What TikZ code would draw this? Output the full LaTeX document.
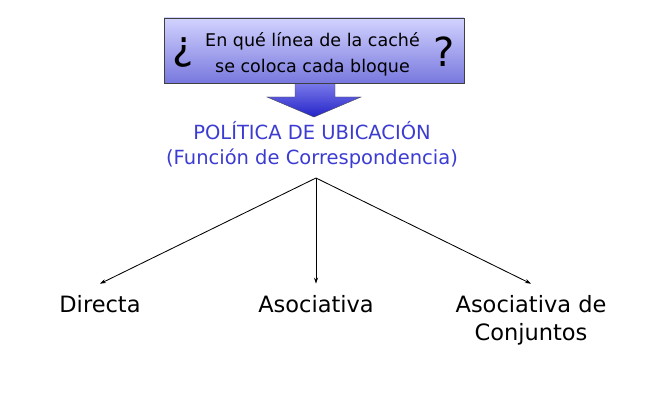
\documentclass[tikz,border=0pt]{standalone}
\usepackage{fontspec}
\setmainfont{DejaVu Sans}
\usetikzlibrary{arrows.meta}
\definecolor{boxtop}{HTML}{D2D2FF}
\definecolor{boxbottom}{HTML}{7878DE}
\definecolor{flechatop}{HTML}{7A7AEA}
\definecolor{flechabottom}{HTML}{2424C8}
\definecolor{azul}{HTML}{3C3CD2}
\tikzset{
    politica/.style={font=\fontsize{19.5}{25}\selectfont, text=azul, align=center, anchor=base, inner sep=0pt},
    tipo/.style={font=\fontsize{22.5}{28}\selectfont, align=center, anchor=base, inner xsep=2pt, inner ysep=11pt},
    rama/.style={-{Stealth[length=6pt,width=4pt]}, line width=0.85pt}
}
\begin{document}
\begin{tikzpicture}[x=1pt, y=1pt]
            \useasboundingbox (0,0) rectangle (661,413);

            \fill[white] (0,0) rectangle (661,413);

            % flecha de bloque
            \shade[top color=flechatop, bottom color=flechabottom, draw=black!70, line width=0.4pt]
                (295,330) -- (295,316) -- (267,316) -- (314,296) -- (361,316) -- (335,316) -- (335,330) -- cycle;

            \node[draw=black!75, line width=0.6pt, top color=boxtop, bottom color=boxbottom,
                  minimum width=300pt, minimum height=65pt, inner sep=0pt] (pregunta) at (314, 362.5) {};

            % anchor=base toma la ultima linea
            \node[font=\fontsize{17.5}{26}\selectfont, align=center, anchor=base, inner sep=0pt] (texto) at (312.5, 340) {En qué línea de la caché\\se coloca cada bloque};
            \node[font=\fontsize{40}{40}\selectfont] (abre) at (183, 361) {¿};
            \node[font=\fontsize{40}{40}\selectfont] (cierra) at (444, 361) {?};

            \node[politica] (ubicacion) at (312, 248) {POLÍTICA DE UBICACIÓN\\(Función de Correspondencia)};

            \coordinate (apex) at (316, 235);

            \node[tipo] (directa) at (100, 101) {Directa};
            \node[tipo] (asociativa) at (316, 101) {Asociativa};
            \node[tipo] (conjuntos) at (531, 73) {Asociativa de\\Conjuntos};

            \draw[rama] (apex) -- (directa.north);
            \draw[rama] (apex) -- (asociativa.north);
            \draw[rama] (apex) -- (conjuntos.north);
        \end{tikzpicture}
\end{document}
